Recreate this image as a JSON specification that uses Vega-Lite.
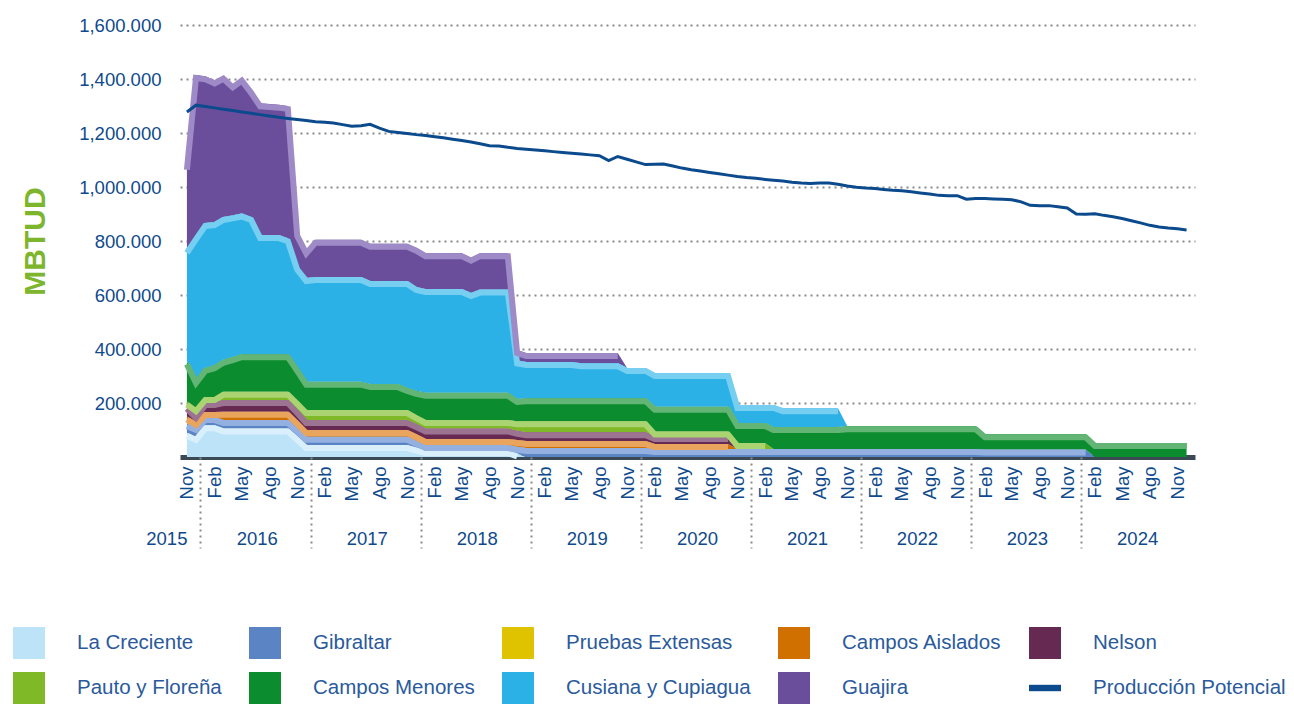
{
  "$schema": "https://vega.github.io/schema/vega-lite/v6.json",
  "width": 1015,
  "height": 432,
  "autosize": {"type": "none"},
  "padding": {"left": 180, "top": 25, "right": 99, "bottom": 247},
  "background": "white",
  "config": {
    "view": {"stroke": null},
    "font": "Liberation Sans",
    "axis": {"labelFont": "Liberation Sans", "titleFont": "Liberation Sans"},
    "legend": {"labelFont": "Liberation Sans"}
  },
  "datasets": {
    "series": [
      {"k": "lc", "serie": "La Creciente", "o": 1},
      {"k": "gi", "serie": "Gibraltar", "o": 2},
      {"k": "pe", "serie": "Pruebas Extensas", "o": 3},
      {"k": "ca", "serie": "Campos Aislados", "o": 4},
      {"k": "ne", "serie": "Nelson", "o": 5},
      {"k": "pf", "serie": "Pauto y Floreña", "o": 6},
      {"k": "cm", "serie": "Campos Menores", "o": 7},
      {"k": "cc", "serie": "Cusiana y Cupiagua", "o": 8},
      {"k": "gu", "serie": "Guajira", "o": 9}
    ],
    "mensual": [
      {"m": "2015-11-01", "lc": 90, "gi": 35, "pe": 5, "ca": 20, "ne": 40, "pf": 15, "cm": 150, "cc": 412, "gu": 308, "pp": 1278},
      {"m": "2015-12-01", "lc": 74, "gi": 37, "pe": 0, "ca": 19, "ne": 26, "pf": 25, "cm": 104, "cc": 532, "gu": 598, "pp": 1303},
      {"m": "2016-01-01", "lc": 118, "gi": 30, "pe": 0, "ca": 19, "ne": 37, "pf": 18, "cm": 108, "cc": 537, "gu": 543, "pp": 1298},
      {"m": "2016-02-01", "lc": 118, "gi": 30, "pe": 0, "ca": 19, "ne": 37, "pf": 18, "cm": 118, "cc": 530, "gu": 525, "pp": 1293},
      {"m": "2016-03-01", "lc": 106, "gi": 31, "pe": 0, "ca": 31, "ne": 43, "pf": 31, "cm": 118, "cc": 529, "gu": 523, "pp": 1288},
      {"m": "2016-04-01", "lc": 106, "gi": 31, "pe": 0, "ca": 31, "ne": 43, "pf": 31, "cm": 128, "cc": 525, "gu": 485, "pp": 1283},
      {"m": "2016-05-01", "lc": 106, "gi": 31, "pe": 0, "ca": 31, "ne": 43, "pf": 31, "cm": 139, "cc": 521, "gu": 503, "pp": 1278},
      {"m": "2016-06-01", "lc": 106, "gi": 31, "pe": 0, "ca": 31, "ne": 43, "pf": 31, "cm": 139, "cc": 508, "gu": 471, "pp": 1273},
      {"m": "2016-07-01", "lc": 106, "gi": 31, "pe": 0, "ca": 31, "ne": 43, "pf": 31, "cm": 139, "cc": 441, "gu": 488, "pp": 1268},
      {"m": "2016-08-01", "lc": 106, "gi": 31, "pe": 0, "ca": 31, "ne": 43, "pf": 31, "cm": 139, "cc": 441, "gu": 485, "pp": 1263},
      {"m": "2016-09-01", "lc": 106, "gi": 31, "pe": 0, "ca": 31, "ne": 43, "pf": 31, "cm": 139, "cc": 441, "gu": 483, "pp": 1258},
      {"m": "2016-10-01", "lc": 106, "gi": 31, "pe": 0, "ca": 31, "ne": 43, "pf": 31, "cm": 139, "cc": 429, "gu": 490, "pp": 1254},
      {"m": "2016-11-01", "lc": 75, "gi": 31, "pe": 0, "ca": 28, "ne": 40, "pf": 34, "cm": 122, "cc": 375, "gu": 125, "pp": 1250},
      {"m": "2016-12-01", "lc": 44, "gi": 31, "pe": 0, "ca": 25, "ne": 37, "pf": 37, "cm": 105, "cc": 384, "gu": 102, "pp": 1246},
      {"m": "2017-01-01", "lc": 44, "gi": 31, "pe": 0, "ca": 25, "ne": 37, "pf": 37, "cm": 105, "cc": 388, "gu": 138, "pp": 1242},
      {"m": "2017-02-01", "lc": 44, "gi": 31, "pe": 0, "ca": 25, "ne": 37, "pf": 37, "cm": 105, "cc": 388, "gu": 138, "pp": 1240},
      {"m": "2017-03-01", "lc": 44, "gi": 31, "pe": 0, "ca": 25, "ne": 37, "pf": 37, "cm": 105, "cc": 388, "gu": 138, "pp": 1237},
      {"m": "2017-04-01", "lc": 44, "gi": 31, "pe": 0, "ca": 25, "ne": 37, "pf": 37, "cm": 105, "cc": 388, "gu": 138, "pp": 1231},
      {"m": "2017-05-01", "lc": 44, "gi": 31, "pe": 0, "ca": 25, "ne": 37, "pf": 37, "cm": 105, "cc": 388, "gu": 138, "pp": 1225},
      {"m": "2017-06-01", "lc": 44, "gi": 31, "pe": 0, "ca": 25, "ne": 37, "pf": 37, "cm": 105, "cc": 388, "gu": 138, "pp": 1227},
      {"m": "2017-07-01", "lc": 44, "gi": 31, "pe": 0, "ca": 25, "ne": 37, "pf": 37, "cm": 96, "cc": 382, "gu": 138, "pp": 1232},
      {"m": "2017-08-01", "lc": 44, "gi": 31, "pe": 0, "ca": 25, "ne": 37, "pf": 37, "cm": 96, "cc": 382, "gu": 138, "pp": 1218},
      {"m": "2017-09-01", "lc": 44, "gi": 31, "pe": 0, "ca": 25, "ne": 37, "pf": 37, "cm": 96, "cc": 382, "gu": 138, "pp": 1206},
      {"m": "2017-10-01", "lc": 44, "gi": 31, "pe": 0, "ca": 25, "ne": 37, "pf": 37, "cm": 96, "cc": 382, "gu": 138, "pp": 1202},
      {"m": "2017-11-01", "lc": 44, "gi": 31, "pe": 0, "ca": 25, "ne": 37, "pf": 37, "cm": 82, "cc": 396, "gu": 138, "pp": 1198},
      {"m": "2017-12-01", "lc": 35, "gi": 25, "pe": 0, "ca": 24, "ne": 38, "pf": 33, "cm": 90, "cc": 385, "gu": 145, "pp": 1194},
      {"m": "2018-01-01", "lc": 26, "gi": 18, "pe": 0, "ca": 23, "ne": 39, "pf": 31, "cm": 101, "cc": 384, "gu": 133, "pp": 1191},
      {"m": "2018-02-01", "lc": 26, "gi": 18, "pe": 0, "ca": 23, "ne": 39, "pf": 31, "cm": 101, "cc": 384, "gu": 133, "pp": 1186},
      {"m": "2018-03-01", "lc": 26, "gi": 18, "pe": 0, "ca": 23, "ne": 39, "pf": 31, "cm": 101, "cc": 384, "gu": 133, "pp": 1182},
      {"m": "2018-04-01", "lc": 26, "gi": 18, "pe": 0, "ca": 23, "ne": 39, "pf": 31, "cm": 101, "cc": 384, "gu": 133, "pp": 1177},
      {"m": "2018-05-01", "lc": 26, "gi": 18, "pe": 0, "ca": 23, "ne": 39, "pf": 31, "cm": 101, "cc": 384, "gu": 133, "pp": 1172},
      {"m": "2018-06-01", "lc": 26, "gi": 18, "pe": 0, "ca": 23, "ne": 39, "pf": 31, "cm": 101, "cc": 369, "gu": 131, "pp": 1167},
      {"m": "2018-07-01", "lc": 26, "gi": 18, "pe": 0, "ca": 23, "ne": 39, "pf": 31, "cm": 101, "cc": 382, "gu": 135, "pp": 1160},
      {"m": "2018-08-01", "lc": 26, "gi": 18, "pe": 0, "ca": 23, "ne": 39, "pf": 31, "cm": 101, "cc": 382, "gu": 135, "pp": 1153},
      {"m": "2018-09-01", "lc": 26, "gi": 18, "pe": 0, "ca": 23, "ne": 39, "pf": 31, "cm": 101, "cc": 382, "gu": 135, "pp": 1152},
      {"m": "2018-10-01", "lc": 26, "gi": 18, "pe": 0, "ca": 23, "ne": 39, "pf": 31, "cm": 101, "cc": 382, "gu": 135, "pp": 1147},
      {"m": "2018-11-01", "lc": 13, "gi": 25, "pe": 0, "ca": 25, "ne": 34, "pf": 35, "cm": 83, "cc": 143, "gu": 38, "pp": 1143},
      {"m": "2018-12-01", "lc": 0, "gi": 33, "pe": 0, "ca": 26, "ne": 33, "pf": 40, "cm": 86, "cc": 134, "gu": 33, "pp": 1140},
      {"m": "2019-01-01", "lc": 0, "gi": 33, "pe": 0, "ca": 26, "ne": 33, "pf": 40, "cm": 86, "cc": 134, "gu": 33, "pp": 1137},
      {"m": "2019-02-01", "lc": 0, "gi": 33, "pe": 0, "ca": 26, "ne": 33, "pf": 40, "cm": 86, "cc": 134, "gu": 33, "pp": 1134},
      {"m": "2019-03-01", "lc": 0, "gi": 33, "pe": 0, "ca": 26, "ne": 33, "pf": 40, "cm": 86, "cc": 134, "gu": 33, "pp": 1131},
      {"m": "2019-04-01", "lc": 0, "gi": 33, "pe": 0, "ca": 26, "ne": 33, "pf": 40, "cm": 86, "cc": 134, "gu": 33, "pp": 1128},
      {"m": "2019-05-01", "lc": 0, "gi": 33, "pe": 0, "ca": 26, "ne": 33, "pf": 40, "cm": 86, "cc": 134, "gu": 33, "pp": 1125},
      {"m": "2019-06-01", "lc": 0, "gi": 33, "pe": 0, "ca": 26, "ne": 33, "pf": 40, "cm": 86, "cc": 129, "gu": 38, "pp": 1122},
      {"m": "2019-07-01", "lc": 0, "gi": 33, "pe": 0, "ca": 26, "ne": 33, "pf": 40, "cm": 86, "cc": 129, "gu": 38, "pp": 1119},
      {"m": "2019-08-01", "lc": 0, "gi": 33, "pe": 0, "ca": 26, "ne": 33, "pf": 40, "cm": 86, "cc": 129, "gu": 38, "pp": 1116},
      {"m": "2019-09-01", "lc": 0, "gi": 33, "pe": 0, "ca": 26, "ne": 33, "pf": 40, "cm": 86, "cc": 129, "gu": 38, "pp": 1098},
      {"m": "2019-10-01", "lc": 0, "gi": 33, "pe": 0, "ca": 26, "ne": 33, "pf": 40, "cm": 86, "cc": 129, "gu": 38, "pp": 1113},
      {"m": "2019-11-01", "lc": 0, "gi": 33, "pe": 0, "ca": 26, "ne": 33, "pf": 40, "cm": 86, "cc": 112, "gu": 0, "pp": 1103},
      {"m": "2019-12-01", "lc": 0, "gi": 33, "pe": 0, "ca": 26, "ne": 33, "pf": 40, "cm": 86, "cc": 112, "gu": 0, "pp": 1093},
      {"m": "2020-01-01", "lc": 0, "gi": 33, "pe": 0, "ca": 26, "ne": 33, "pf": 40, "cm": 86, "cc": 112, "gu": 0, "pp": 1083},
      {"m": "2020-02-01", "lc": 0, "gi": 30, "pe": 0, "ca": 18, "ne": 30, "pf": 16, "cm": 92, "cc": 125, "gu": 0, "pp": 1084},
      {"m": "2020-03-01", "lc": 0, "gi": 30, "pe": 0, "ca": 18, "ne": 30, "pf": 16, "cm": 92, "cc": 125, "gu": 0, "pp": 1085},
      {"m": "2020-04-01", "lc": 0, "gi": 30, "pe": 0, "ca": 18, "ne": 30, "pf": 16, "cm": 92, "cc": 125, "gu": 0, "pp": 1078},
      {"m": "2020-05-01", "lc": 0, "gi": 30, "pe": 0, "ca": 18, "ne": 30, "pf": 16, "cm": 92, "cc": 125, "gu": 0, "pp": 1070},
      {"m": "2020-06-01", "lc": 0, "gi": 30, "pe": 0, "ca": 18, "ne": 30, "pf": 16, "cm": 92, "cc": 125, "gu": 0, "pp": 1064},
      {"m": "2020-07-01", "lc": 0, "gi": 30, "pe": 0, "ca": 18, "ne": 30, "pf": 16, "cm": 92, "cc": 125, "gu": 0, "pp": 1059},
      {"m": "2020-08-01", "lc": 0, "gi": 30, "pe": 0, "ca": 18, "ne": 30, "pf": 16, "cm": 92, "cc": 125, "gu": 0, "pp": 1054},
      {"m": "2020-09-01", "lc": 0, "gi": 30, "pe": 0, "ca": 18, "ne": 30, "pf": 16, "cm": 92, "cc": 125, "gu": 0, "pp": 1049},
      {"m": "2020-10-01", "lc": 0, "gi": 30, "pe": 0, "ca": 18, "ne": 30, "pf": 16, "cm": 92, "cc": 125, "gu": 0, "pp": 1044},
      {"m": "2020-11-01", "lc": 0, "gi": 30, "pe": 0, "ca": 0, "ne": 0, "pf": 22, "cm": 74, "cc": 67, "gu": 0, "pp": 1039},
      {"m": "2020-12-01", "lc": 0, "gi": 30, "pe": 0, "ca": 0, "ne": 0, "pf": 22, "cm": 74, "cc": 67, "gu": 0, "pp": 1035},
      {"m": "2021-01-01", "lc": 0, "gi": 30, "pe": 0, "ca": 0, "ne": 0, "pf": 22, "cm": 74, "cc": 67, "gu": 0, "pp": 1032},
      {"m": "2021-02-01", "lc": 0, "gi": 30, "pe": 0, "ca": 0, "ne": 0, "pf": 22, "cm": 74, "cc": 67, "gu": 0, "pp": 1028},
      {"m": "2021-03-01", "lc": 0, "gi": 30, "pe": 0, "ca": 0, "ne": 0, "pf": 0, "cm": 81, "cc": 82, "gu": 0, "pp": 1025},
      {"m": "2021-04-01", "lc": 0, "gi": 30, "pe": 0, "ca": 0, "ne": 0, "pf": 0, "cm": 81, "cc": 70, "gu": 0, "pp": 1022},
      {"m": "2021-05-01", "lc": 0, "gi": 30, "pe": 0, "ca": 0, "ne": 0, "pf": 0, "cm": 81, "cc": 70, "gu": 0, "pp": 1018},
      {"m": "2021-06-01", "lc": 0, "gi": 30, "pe": 0, "ca": 0, "ne": 0, "pf": 0, "cm": 81, "cc": 70, "gu": 0, "pp": 1015},
      {"m": "2021-07-01", "lc": 0, "gi": 30, "pe": 0, "ca": 0, "ne": 0, "pf": 0, "cm": 81, "cc": 70, "gu": 0, "pp": 1013},
      {"m": "2021-08-01", "lc": 0, "gi": 30, "pe": 0, "ca": 0, "ne": 0, "pf": 0, "cm": 81, "cc": 70, "gu": 0, "pp": 1015},
      {"m": "2021-09-01", "lc": 0, "gi": 30, "pe": 0, "ca": 0, "ne": 0, "pf": 0, "cm": 81, "cc": 70, "gu": 0, "pp": 1015},
      {"m": "2021-10-01", "lc": 0, "gi": 30, "pe": 0, "ca": 0, "ne": 0, "pf": 0, "cm": 81, "cc": 70, "gu": 0, "pp": 1010},
      {"m": "2021-11-01", "lc": 0, "gi": 30, "pe": 0, "ca": 0, "ne": 0, "pf": 0, "cm": 84, "cc": 0, "gu": 0, "pp": 1004},
      {"m": "2021-12-01", "lc": 0, "gi": 30, "pe": 0, "ca": 0, "ne": 0, "pf": 0, "cm": 84, "cc": 0, "gu": 0, "pp": 999},
      {"m": "2022-01-01", "lc": 0, "gi": 30, "pe": 0, "ca": 0, "ne": 0, "pf": 0, "cm": 84, "cc": 0, "gu": 0, "pp": 996},
      {"m": "2022-02-01", "lc": 0, "gi": 30, "pe": 0, "ca": 0, "ne": 0, "pf": 0, "cm": 84, "cc": 0, "gu": 0, "pp": 994},
      {"m": "2022-03-01", "lc": 0, "gi": 30, "pe": 0, "ca": 0, "ne": 0, "pf": 0, "cm": 84, "cc": 0, "gu": 0, "pp": 991},
      {"m": "2022-04-01", "lc": 0, "gi": 30, "pe": 0, "ca": 0, "ne": 0, "pf": 0, "cm": 84, "cc": 0, "gu": 0, "pp": 988},
      {"m": "2022-05-01", "lc": 0, "gi": 30, "pe": 0, "ca": 0, "ne": 0, "pf": 0, "cm": 84, "cc": 0, "gu": 0, "pp": 986},
      {"m": "2022-06-01", "lc": 0, "gi": 30, "pe": 0, "ca": 0, "ne": 0, "pf": 0, "cm": 84, "cc": 0, "gu": 0, "pp": 982},
      {"m": "2022-07-01", "lc": 0, "gi": 30, "pe": 0, "ca": 0, "ne": 0, "pf": 0, "cm": 84, "cc": 0, "gu": 0, "pp": 978},
      {"m": "2022-08-01", "lc": 0, "gi": 30, "pe": 0, "ca": 0, "ne": 0, "pf": 0, "cm": 84, "cc": 0, "gu": 0, "pp": 974},
      {"m": "2022-09-01", "lc": 0, "gi": 30, "pe": 0, "ca": 0, "ne": 0, "pf": 0, "cm": 84, "cc": 0, "gu": 0, "pp": 969},
      {"m": "2022-10-01", "lc": 0, "gi": 30, "pe": 0, "ca": 0, "ne": 0, "pf": 0, "cm": 84, "cc": 0, "gu": 0, "pp": 968},
      {"m": "2022-11-01", "lc": 0, "gi": 30, "pe": 0, "ca": 0, "ne": 0, "pf": 0, "cm": 84, "cc": 0, "gu": 0, "pp": 968},
      {"m": "2022-12-01", "lc": 0, "gi": 30, "pe": 0, "ca": 0, "ne": 0, "pf": 0, "cm": 84, "cc": 0, "gu": 0, "pp": 955},
      {"m": "2023-01-01", "lc": 0, "gi": 30, "pe": 0, "ca": 0, "ne": 0, "pf": 0, "cm": 84, "cc": 0, "gu": 0, "pp": 957},
      {"m": "2023-02-01", "lc": 0, "gi": 28, "pe": 0, "ca": 0, "ne": 0, "pf": 0, "cm": 56, "cc": 0, "gu": 0, "pp": 957},
      {"m": "2023-03-01", "lc": 0, "gi": 28, "pe": 0, "ca": 0, "ne": 0, "pf": 0, "cm": 56, "cc": 0, "gu": 0, "pp": 956},
      {"m": "2023-04-01", "lc": 0, "gi": 28, "pe": 0, "ca": 0, "ne": 0, "pf": 0, "cm": 56, "cc": 0, "gu": 0, "pp": 955},
      {"m": "2023-05-01", "lc": 0, "gi": 28, "pe": 0, "ca": 0, "ne": 0, "pf": 0, "cm": 56, "cc": 0, "gu": 0, "pp": 953},
      {"m": "2023-06-01", "lc": 0, "gi": 28, "pe": 0, "ca": 0, "ne": 0, "pf": 0, "cm": 56, "cc": 0, "gu": 0, "pp": 945},
      {"m": "2023-07-01", "lc": 0, "gi": 28, "pe": 0, "ca": 0, "ne": 0, "pf": 0, "cm": 56, "cc": 0, "gu": 0, "pp": 932},
      {"m": "2023-08-01", "lc": 0, "gi": 28, "pe": 0, "ca": 0, "ne": 0, "pf": 0, "cm": 56, "cc": 0, "gu": 0, "pp": 931},
      {"m": "2023-09-01", "lc": 0, "gi": 28, "pe": 0, "ca": 0, "ne": 0, "pf": 0, "cm": 56, "cc": 0, "gu": 0, "pp": 931},
      {"m": "2023-10-01", "lc": 0, "gi": 28, "pe": 0, "ca": 0, "ne": 0, "pf": 0, "cm": 56, "cc": 0, "gu": 0, "pp": 927},
      {"m": "2023-11-01", "lc": 0, "gi": 28, "pe": 0, "ca": 0, "ne": 0, "pf": 0, "cm": 56, "cc": 0, "gu": 0, "pp": 922},
      {"m": "2023-12-01", "lc": 0, "gi": 28, "pe": 0, "ca": 0, "ne": 0, "pf": 0, "cm": 56, "cc": 0, "gu": 0, "pp": 900},
      {"m": "2024-01-01", "lc": 0, "gi": 28, "pe": 0, "ca": 0, "ne": 0, "pf": 0, "cm": 56, "cc": 0, "gu": 0, "pp": 899},
      {"m": "2024-02-01", "lc": 0, "gi": 0, "pe": 0, "ca": 0, "ne": 0, "pf": 0, "cm": 52, "cc": 0, "gu": 0, "pp": 901},
      {"m": "2024-03-01", "lc": 0, "gi": 0, "pe": 0, "ca": 0, "ne": 0, "pf": 0, "cm": 52, "cc": 0, "gu": 0, "pp": 895},
      {"m": "2024-04-01", "lc": 0, "gi": 0, "pe": 0, "ca": 0, "ne": 0, "pf": 0, "cm": 52, "cc": 0, "gu": 0, "pp": 890},
      {"m": "2024-05-01", "lc": 0, "gi": 0, "pe": 0, "ca": 0, "ne": 0, "pf": 0, "cm": 52, "cc": 0, "gu": 0, "pp": 883},
      {"m": "2024-06-01", "lc": 0, "gi": 0, "pe": 0, "ca": 0, "ne": 0, "pf": 0, "cm": 52, "cc": 0, "gu": 0, "pp": 875},
      {"m": "2024-07-01", "lc": 0, "gi": 0, "pe": 0, "ca": 0, "ne": 0, "pf": 0, "cm": 52, "cc": 0, "gu": 0, "pp": 867},
      {"m": "2024-08-01", "lc": 0, "gi": 0, "pe": 0, "ca": 0, "ne": 0, "pf": 0, "cm": 52, "cc": 0, "gu": 0, "pp": 858},
      {"m": "2024-09-01", "lc": 0, "gi": 0, "pe": 0, "ca": 0, "ne": 0, "pf": 0, "cm": 52, "cc": 0, "gu": 0, "pp": 852},
      {"m": "2024-10-01", "lc": 0, "gi": 0, "pe": 0, "ca": 0, "ne": 0, "pf": 0, "cm": 52, "cc": 0, "gu": 0, "pp": 848},
      {"m": "2024-11-01", "lc": 0, "gi": 0, "pe": 0, "ca": 0, "ne": 0, "pf": 0, "cm": 52, "cc": 0, "gu": 0, "pp": 845},
      {"m": "2024-12-01", "lc": 0, "gi": 0, "pe": 0, "ca": 0, "ne": 0, "pf": 0, "cm": 52, "cc": 0, "gu": 0, "pp": 841}
    ]
  },
  "data": {"name": "mensual"},
  "layer": [
    {
      "transform": [
        {"fold": ["lc", "gi", "pe", "ca", "ne", "pf", "cm", "cc", "gu"], "as": ["k", "v"]},
        {"lookup": "k", "from": {"data": {"name": "series"}, "key": "k", "fields": ["serie", "o"]}},
        {"stack": "v", "groupby": ["m"], "sort": [{"field": "o", "order": "ascending"}], "as": ["v0", "v1"]}
      ],
      "mark": {"type": "area", "interpolate": "linear"},
      "encoding": {
        "x": {
          "field": "m", "type": "temporal",
          "scale": {"type": "utc", "domain": [{"year": 2015, "month": 10, "date": 9, "utc": true}, {"year": 2024, "month": 12, "date": 29, "utc": true}]},
          "axis": {
            "orient": "bottom", "title": null, "grid": false, "ticks": false,
            "domain": true, "domainColor": "#3b4955", "domainWidth": 5,
            "labelAngle": -90, "labelAlign": "right", "labelBaseline": "middle",
            "labelPadding": 9, "labelFontSize": 18.5, "labelColor": "#0f4a8c",
            "labelOverlap": false,
            "labelExpr": "['Ene','Feb','Mar','Abr','May','Jun','Jul','Ago','Sep','Oct','Nov','Dic'][utcmonth(datum.value)]",
            "values": [
              {"year": 2015, "month": 11, "date": 1, "utc": true},
              {"year": 2016, "month": 2, "date": 1, "utc": true}, {"year": 2016, "month": 5, "date": 1, "utc": true}, {"year": 2016, "month": 8, "date": 1, "utc": true}, {"year": 2016, "month": 11, "date": 1, "utc": true},
              {"year": 2017, "month": 2, "date": 1, "utc": true}, {"year": 2017, "month": 5, "date": 1, "utc": true}, {"year": 2017, "month": 8, "date": 1, "utc": true}, {"year": 2017, "month": 11, "date": 1, "utc": true},
              {"year": 2018, "month": 2, "date": 1, "utc": true}, {"year": 2018, "month": 5, "date": 1, "utc": true}, {"year": 2018, "month": 8, "date": 1, "utc": true}, {"year": 2018, "month": 11, "date": 1, "utc": true},
              {"year": 2019, "month": 2, "date": 1, "utc": true}, {"year": 2019, "month": 5, "date": 1, "utc": true}, {"year": 2019, "month": 8, "date": 1, "utc": true}, {"year": 2019, "month": 11, "date": 1, "utc": true},
              {"year": 2020, "month": 2, "date": 1, "utc": true}, {"year": 2020, "month": 5, "date": 1, "utc": true}, {"year": 2020, "month": 8, "date": 1, "utc": true}, {"year": 2020, "month": 11, "date": 1, "utc": true},
              {"year": 2021, "month": 2, "date": 1, "utc": true}, {"year": 2021, "month": 5, "date": 1, "utc": true}, {"year": 2021, "month": 8, "date": 1, "utc": true}, {"year": 2021, "month": 11, "date": 1, "utc": true},
              {"year": 2022, "month": 2, "date": 1, "utc": true}, {"year": 2022, "month": 5, "date": 1, "utc": true}, {"year": 2022, "month": 8, "date": 1, "utc": true}, {"year": 2022, "month": 11, "date": 1, "utc": true},
              {"year": 2023, "month": 2, "date": 1, "utc": true}, {"year": 2023, "month": 5, "date": 1, "utc": true}, {"year": 2023, "month": 8, "date": 1, "utc": true}, {"year": 2023, "month": 11, "date": 1, "utc": true},
              {"year": 2024, "month": 2, "date": 1, "utc": true}, {"year": 2024, "month": 5, "date": 1, "utc": true}, {"year": 2024, "month": 8, "date": 1, "utc": true}, {"year": 2024, "month": 11, "date": 1, "utc": true}
            ]
          }
        },
        "y": {
          "field": "v1", "type": "quantitative",
          "scale": {"domain": [0, 1600], "nice": false},
          "axis": {
            "orient": "left",
            "values": [200, 400, 600, 800, 1000, 1200, 1400, 1600],
            "labelExpr": "format(datum.value, ',.3f')",
            "grid": true, "gridDash": [2, 4], "gridColor": "#8a8a8a", "gridWidth": 2,
            "ticks": false, "domain": false,
            "labelFontSize": 18.5, "labelColor": "#0f4a8c", "labelPadding": 19,
            "title": "MBTUD", "titleColor": "#7db52c", "titleFontSize": 30, "titleFontWeight": "bold",
            "titleX": -145, "titleY": 216, "titleAngle": -90, "titleAlign": "center", "titleBaseline": "middle"
          }
        },
        "y2": {"field": "v0"},
        "color": {
          "field": "serie", "type": "nominal",
          "scale": {
            "domain": ["La Creciente", "Gibraltar", "Pruebas Extensas", "Campos Aislados", "Nelson", "Pauto y Floreña", "Campos Menores", "Cusiana y Cupiagua", "Guajira", "Producción Potencial"],
            "range": ["#bde3f8", "#5b84c4", "#dfc300", "#d07000", "#662a52", "#80b927", "#0b8c2e", "#2bb1e6", "#6a4e9c", "#0b4a8c"]
          },
          "legend": {
            "title": null, "orient": "none", "legendX": -167, "legendY": 602,
            "direction": "horizontal", "columns": 5, "gridAlign": "each",
            "columnPadding": 27, "rowPadding": 13,
            "symbolType": "square", "symbolSize": 1024, "symbolStrokeWidth": 0, "symbolOpacity": 1,
            "labelFontSize": 20.5, "labelColor": "#2a5a9c", "labelOffset": 32, "labelLimit": 320,
            "encode": {
              "symbols": {
                "update": {
                  "shape": {"signal": "datum.value === 'Producción Potencial' ? 'M-1,-0.2H1V0.2H-1Z' : 'square'"}
                }
              }
            }
          }
        }
      }
    },
    {
      "transform": [
        {"fold": ["lc", "gi", "pe", "ca", "ne", "pf", "cm", "cc", "gu"], "as": ["k", "v"]},
        {"lookup": "k", "from": {"data": {"name": "series"}, "key": "k", "fields": ["serie", "o"]}},
        {"stack": "v", "groupby": ["m"], "sort": [{"field": "o", "order": "ascending"}], "as": ["v0", "v1"]},
        {"filter": "datum.v > 0"}
      ],
      "mark": {"type": "line", "strokeWidth": 6, "yOffset": 3, "interpolate": "linear"},
      "encoding": {
        "x": {
          "field": "m", "type": "temporal",
          "scale": {"type": "utc", "domain": [{"year": 2015, "month": 10, "date": 9, "utc": true}, {"year": 2024, "month": 12, "date": 29, "utc": true}]},
          "axis": {
            "orient": "bottom", "title": null, "grid": false, "labels": false, "domain": false,
            "ticks": true, "tickSize": 91, "tickDash": [2, 4], "tickWidth": 2, "tickColor": "#8a8a8a",
            "values": [
              {"year": 2015, "month": 12, "date": 16, "utc": true}, {"year": 2016, "month": 12, "date": 16, "utc": true},
              {"year": 2017, "month": 12, "date": 16, "utc": true}, {"year": 2018, "month": 12, "date": 16, "utc": true},
              {"year": 2019, "month": 12, "date": 16, "utc": true}, {"year": 2020, "month": 12, "date": 16, "utc": true},
              {"year": 2021, "month": 12, "date": 16, "utc": true}, {"year": 2022, "month": 12, "date": 16, "utc": true},
              {"year": 2023, "month": 12, "date": 16, "utc": true}
            ]
          }
        },
        "y": {"field": "v1", "type": "quantitative", "scale": {"domain": [0, 1600], "nice": false}, "axis": null},
        "stroke": {
          "field": "serie", "type": "nominal", "legend": null,
          "scale": {
            "domain": ["La Creciente", "Gibraltar", "Pruebas Extensas", "Campos Aislados", "Nelson", "Pauto y Floreña", "Campos Menores", "Cusiana y Cupiagua", "Guajira"],
            "range": ["#d9f0fc", "#93b0e0", "#ecdb63", "#e9a55e", "#9d7392", "#aad472", "#62b574", "#76cef1", "#9d8ac6"]
          }
        }
      }
    },
    {
      "mark": {"type": "line", "color": "#0b4a8c", "strokeWidth": 3, "interpolate": "linear"},
      "encoding": {
        "x": {
          "field": "m", "type": "temporal",
          "scale": {"type": "utc", "domain": [{"year": 2015, "month": 10, "date": 9, "utc": true}, {"year": 2024, "month": 12, "date": 29, "utc": true}]},
          "axis": {
            "orient": "bottom", "title": null, "grid": false, "ticks": false, "domain": false,
            "labelPadding": 72, "labelFontSize": 18.5, "labelColor": "#0f4a8c", "labelAngle": 0,
            "labelOverlap": false,
            "labelAlign": {"condition": {"test": "utcyear(datum.value) == 2015", "value": "right"}, "value": "center"},
            "labelExpr": "utcFormat(datum.value, '%Y')",
            "values": [
              {"year": 2015, "month": 11, "date": 1, "utc": true},
              {"year": 2016, "month": 6, "date": 20, "utc": true}, {"year": 2017, "month": 6, "date": 20, "utc": true},
              {"year": 2018, "month": 6, "date": 20, "utc": true}, {"year": 2019, "month": 6, "date": 20, "utc": true},
              {"year": 2020, "month": 6, "date": 20, "utc": true}, {"year": 2021, "month": 6, "date": 20, "utc": true},
              {"year": 2022, "month": 6, "date": 20, "utc": true}, {"year": 2023, "month": 6, "date": 20, "utc": true},
              {"year": 2024, "month": 6, "date": 20, "utc": true}
            ]
          }
        },
        "y": {"field": "pp", "type": "quantitative", "scale": {"domain": [0, 1600], "nice": false}, "axis": null}
      }
    }
  ],
  "resolve": {"axis": {"x": "independent", "y": "independent"}, "scale": {"x": "shared", "y": "shared"}}
}
